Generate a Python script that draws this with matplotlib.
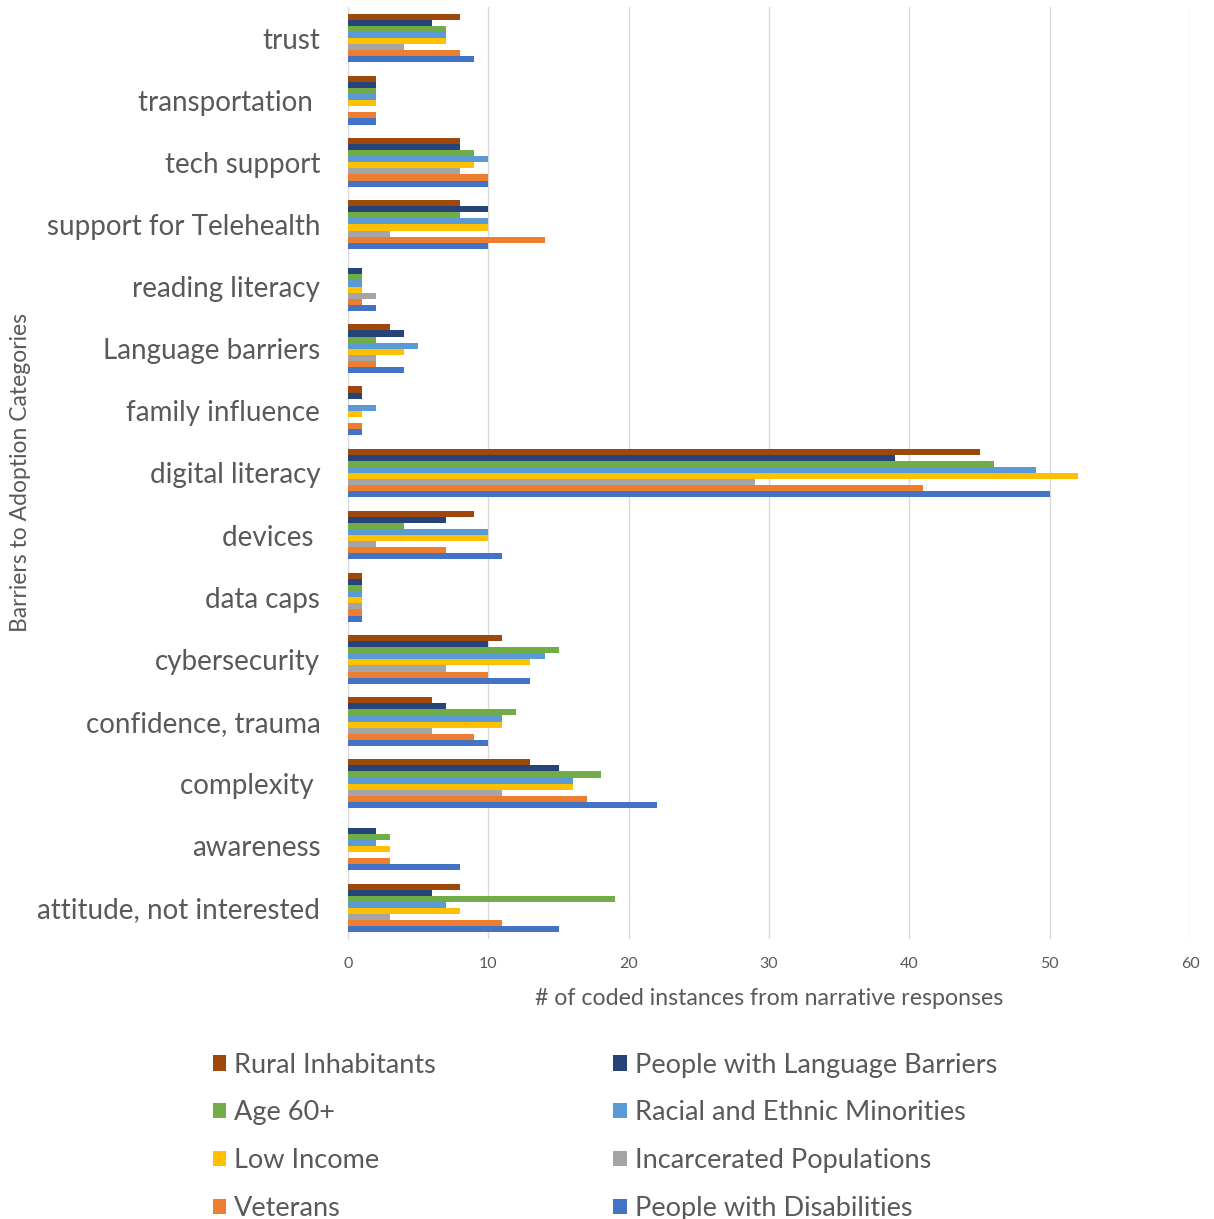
import numpy as np
import matplotlib.pyplot as plt
from matplotlib.patches import Patch

plt.rcParams['font.family'] = ['Lato', 'DejaVu Sans']

# categories, top to bottom as drawn
categories = ["trust", "transportation ", "tech support", "support for Telehealth",
              "reading literacy", "Language barriers", "family influence",
              "digital literacy", "devices ", "data caps", "cybersecurity",
              "confidence, trauma", "complexity ", "awareness",
              "attitude, not interested"]

series_names = ["Rural Inhabitants", "People with Language Barriers", "Age 60+",
                "Racial and Ethnic Minorities", "Low Income", "Incarcerated Populations",
                "Veterans", "People with Disabilities"]

rural       = [8, 2, 8, 8, 0, 3, 1, 45, 9, 1, 11, 6, 13, 0, 8]
lang_barr   = [6, 2, 8, 10, 1, 4, 1, 39, 7, 1, 10, 7, 15, 2, 6]
age60       = [7, 2, 9, 8, 1, 2, 0, 46, 4, 1, 15, 12, 18, 3, 19]
racial      = [7, 2, 10, 10, 1, 5, 2, 49, 10, 1, 14, 11, 16, 2, 7]
low_income  = [7, 2, 9, 10, 1, 4, 1, 52, 10, 1, 13, 11, 16, 3, 8]
incarc      = [4, 0, 8, 3, 2, 2, 0, 29, 2, 1, 7, 6, 11, 0, 3]
veterans    = [8, 2, 10, 14, 1, 2, 1, 41, 7, 1, 10, 9, 17, 3, 11]
disab       = [9, 2, 10, 10, 2, 4, 1, 50, 11, 1, 13, 10, 22, 8, 15]

colors = ["#9E480E", "#264478", "#70AD47", "#5B9BD5",
          "#FFC000", "#A5A5A5", "#ED7D31", "#4472C4"]

all_series = [rural, lang_barr, age60, racial, low_income, incarc, veterans, disab]

txt = "#595959"

fig = plt.figure(figsize=(12.14, 12.19), dpi=100)
ax = fig.add_axes([0.2867, 0.2297, 0.6936, 0.7646])

y = np.arange(len(categories))
h = 0.098
for k, (vals, col) in enumerate(zip(all_series, colors)):
    ax.barh(y + (k - 3.5) * h, vals, height=h, color=col, zorder=3)

ax.set_ylim(len(categories) - 0.5, -0.5)
ax.set_xlim(0, 60)
ax.set_xticks(range(0, 61, 10))
ax.set_yticks(y)
ax.set_yticklabels(categories)
ax.tick_params(axis='y', length=0, pad=20, labelsize=20, labelcolor=txt)
ax.tick_params(axis='x', length=0, pad=13, labelsize=11.5, labelcolor=txt)
ax.grid(axis='x', color='#d9d9d9', linewidth=1, zorder=0)
for s in ['top', 'right', 'bottom']:
    ax.spines[s].set_visible(False)
ax.spines['left'].set_color('#d9d9d9')

ax.set_xlabel("# of coded instances from narrative responses", fontsize=16.7, color=txt, labelpad=12)
ax.set_ylabel("Barriers to Adoption Categories", fontsize=16.5, color=txt)
ax.yaxis.set_label_coords(-0.376, 0.5)

order = [0, 2, 4, 6, 1, 3, 5, 7]
handles = [Patch(facecolor=colors[i], label=series_names[i]) for i in order]
fig.legend(handles=handles, loc='upper left', bbox_to_anchor=(0.155, 0.1565),
           ncol=2, frameon=False, fontsize=19.5, labelcolor=txt,
           handlelength=0.5, handleheight=0.5, handletextpad=0.3,
           labelspacing=0.84, columnspacing=6.55)

fig.savefig("out.png", dpi=100)
